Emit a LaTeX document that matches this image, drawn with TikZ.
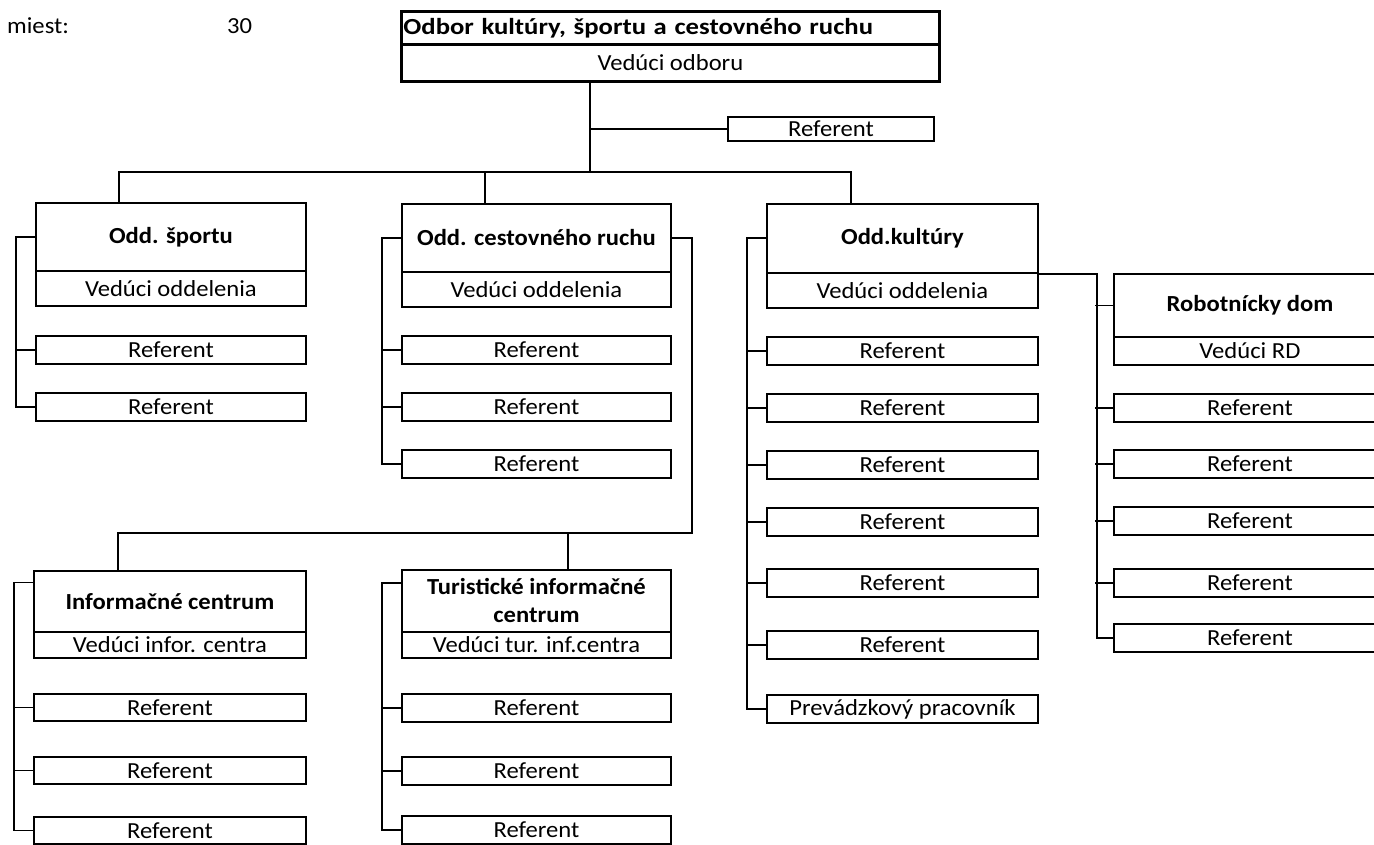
\documentclass[tikz,border=0pt]{standalone}
\usepackage{fontspec}
\setmainfont{Carlito}[FakeStretch=1.07]
\newfontfamily\titlefont{Carlito}[FakeStretch=1.16]
\begin{document}
\begin{tikzpicture}[x=1pt,y=-1pt,
  box/.style={draw, line width=1.9pt, inner sep=0pt, anchor=north west, font=\fontsize{23}{26}\selectfont},
  hdr/.style={box, font=\fontsize{23}{26}\selectfont\bfseries},
  con/.style={line width=1.9pt},
  lbl/.style={anchor=west, inner sep=0pt, font=\fontsize{23}{26}\selectfont}]
\useasboundingbox (0,0) rectangle (1374,845);
\clip (0,0) rectangle (1374,845);

% top text
\node[lbl] (miest) at (7,26) {miest:};
\node[lbl] (num) at (227,26) {30};

% top box
\node[box, font=\fontsize{23}{26}\titlefont\bfseries, line width=2.8pt, minimum width=538pt, minimum height=33pt, text width=534pt, align=left] (tt) at (400,10) {Odbor kultúry, športu a cestovného ruchu};
\node[box, line width=2.8pt, minimum width=538pt, minimum height=37pt] (tv) at (400,43) {Vedúci odboru};
\node[box, minimum width=206pt, minimum height=24pt] (tref) at (727,116) {Referent};

% junction coordinates
\coordinate (j1) at (590,172);
\coordinate (d1) at (119,172);
\coordinate (d2) at (485,172);
\coordinate (d3) at (851,172);
\coordinate (b1) at (118,533);
\coordinate (b2) at (568,533);

% column 1: sport
\node[hdr, minimum width=270pt, minimum height=68pt] (sph) at (35,202) {Odd. športu};
\node[box, minimum width=270pt, minimum height=35pt] (spv) at (35,270) {Vedúci oddelenia};
\node[box, minimum width=270pt, minimum height=28pt] (sp1) at (35,335) {Referent};
\node[box, minimum width=270pt, minimum height=28pt] (sp2) at (35,392) {Referent};

% column 2: cestovny ruch
\node[hdr, minimum width=269pt, minimum height=68pt] (ceh) at (401,203) {Odd. cestovného ruchu};
\node[box, minimum width=269pt, minimum height=35pt] (cev) at (401,271) {Vedúci oddelenia};
\node[box, minimum width=269pt, minimum height=28pt] (ce1) at (401,335) {Referent};
\node[box, minimum width=269pt, minimum height=28pt] (ce2) at (401,392) {Referent};
\node[box, minimum width=269pt, minimum height=28pt] (ce3) at (401,449) {Referent};

% column 3: kultura
\node[hdr, minimum width=271pt, minimum height=69pt] (kuh) at (766,203) {Odd.kultúry};
\node[box, minimum width=271pt, minimum height=35pt] (kuv) at (766,272) {Vedúci oddelenia};
\node[box, minimum width=271pt, minimum height=28pt] (ku1) at (766,336) {Referent};
\node[box, minimum width=271pt, minimum height=28pt] (ku2) at (766,393) {Referent};
\node[box, minimum width=271pt, minimum height=28pt] (ku3) at (766,450) {Referent};
\node[box, minimum width=271pt, minimum height=28pt] (ku4) at (766,507) {Referent};
\node[box, minimum width=271pt, minimum height=28pt] (ku5) at (766,568) {Referent};
\node[box, minimum width=271pt, minimum height=28pt] (ku6) at (766,630) {Referent};
\node[box, minimum width=271pt, minimum height=28pt] (ku7) at (766,694) {Prevádzkový pracovník};

% column 4: robotnicky dom
\node[hdr, minimum width=272pt, minimum height=63pt] (rdh) at (1113,273) {Robotnícky dom};
\node[box, minimum width=272pt, minimum height=28pt] (rdv) at (1113,336) {Vedúci RD};
\node[box, minimum width=272pt, minimum height=28pt] (rd1) at (1113,393) {Referent};
\node[box, minimum width=272pt, minimum height=28pt] (rd2) at (1113,449) {Referent};
\node[box, minimum width=272pt, minimum height=28pt] (rd3) at (1113,506) {Referent};
\node[box, minimum width=272pt, minimum height=28pt] (rd4) at (1113,568) {Referent};
\node[box, minimum width=272pt, minimum height=28pt] (rd5) at (1113,623) {Referent};

% column 5: informacne centrum
\node[hdr, minimum width=272pt, minimum height=61pt] (ich) at (33,570) {Informačné centrum};
\node[box, minimum width=272pt, minimum height=26pt] (icv) at (33,631) {Vedúci infor. centra};
\node[box, minimum width=272pt, minimum height=27pt] (ic1) at (33,693) {Referent};
\node[box, minimum width=272pt, minimum height=27pt] (ic2) at (33,756) {Referent};
\node[box, minimum width=272pt, minimum height=27pt] (ic3) at (33,816) {Referent};

% column 6: turisticke informacne centrum
\node[hdr, minimum width=269pt, minimum height=62pt, align=center] (tih) at (401,569) {Turistické informačné\\[2pt]centrum};
\node[box, minimum width=269pt, minimum height=26pt] (tiv) at (401,631) {Vedúci tur. inf.centra};
\node[box, minimum width=269pt, minimum height=28pt] (ti1) at (401,693) {Referent};
\node[box, minimum width=269pt, minimum height=28pt] (ti2) at (401,756) {Referent};
\node[box, minimum width=269pt, minimum height=28pt] (ti3) at (401,815) {Referent};

% connectors: top
\draw[con] (j1 |- tv.south) -- (j1);
\draw[con] (j1 |- tref.west) -- (tref.west);
\draw[con] (d1 |- sph.north) -- (d1) -- (d3) -- (d3 |- kuh.north);
\draw[con] (d2) -- (d2 |- ceh.north);

% sport rail
\draw[con] (sph.west) -- ++(-19,0) |- (sp2.west);
\draw[con] (sp1.west) -- ++(-19,0);

% cestovny rail
\draw[con] (ceh.west) -- ++(-19,0) |- (ce3.west);
\draw[con] (ce1.west) -- ++(-19,0);
\draw[con] (ce2.west) -- ++(-19,0);

% cestovny -> lower bus
\draw[con] (ceh.east) -- ++(20,0) |- (b1) -- (b1 |- ich.north);
\draw[con] (b2) -- (b2 |- tih.north);

% kultura rail
\draw[con] (kuh.west) -- ++(-19,0) |- (ku7.west);
\foreach \n in {ku1,ku2,ku3,ku4,ku5,ku6} \draw[con] (\n.west) -- ++(-19,0);

% kultura -> robotnicky dom
\draw[con] (kuh.south east) -- ++(58,0) |- (rd5.west);
\foreach \n in {rdh,rd1,rd2,rd3,rd4} \draw[con] (\n.west) -- ++(-18,0);

% informacne centrum rail
\draw[con] ([yshift=19pt]ich.west) -- ++(-19,0) |- (ic3.west);
\draw[con] (ic1.west) -- ++(-19,0);
\draw[con] (ic2.west) -- ++(-19,0);

% turisticke rail
\draw[con] ([yshift=18pt]tih.west) -- ++(-19,0) |- (ti3.west);
\draw[con] (ti1.west) -- ++(-19,0);
\draw[con] (ti2.west) -- ++(-19,0);
\end{tikzpicture}
\end{document}
